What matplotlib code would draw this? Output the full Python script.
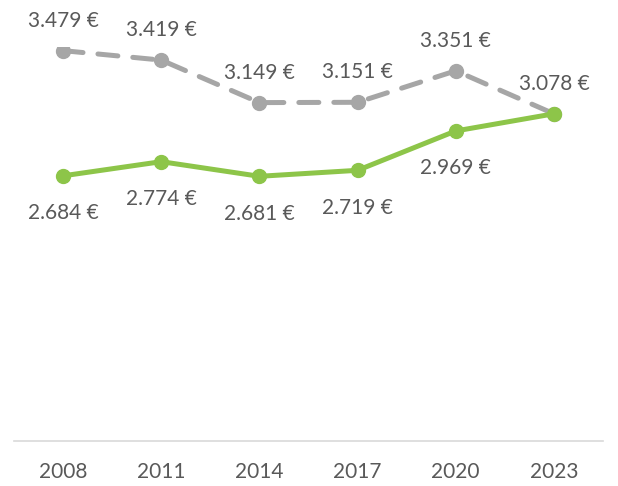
import matplotlib.pyplot as plt

years = ['2008', '2011', '2014', '2017', '2020', '2023']
grey_vals = [3479, 3419, 3149, 3151, 3351, 3078]
green_vals = [2684, 2774, 2681, 2719, 2969, 3078]

plt.rcParams['font.family'] = ['Lato', 'DejaVu Sans']
txt = '#595959'

fig = plt.figure(figsize=(6.18, 4.86), dpi=100)
ax = fig.add_axes([0.0227, 0.0926, 0.953, 0.81])
x = range(len(years))

ax.plot(x, grey_vals, color='#A6A6A6', lw=3.6, ls=(0, (4, 3)),
        marker='o', ms=10, dash_capstyle='round', zorder=2)
ax.plot(x, green_vals, color='#8DC549', lw=3.6, marker='o', ms=10, zorder=3)

def fmt(v):
    return f'{v/1000:.3f} €'

for i, v in enumerate(grey_vals):
    ax.annotate(fmt(v), (i, v), xytext=(0, 21.5), textcoords='offset points',
                ha='center', va='center', fontsize=15, color=txt)
for i, v in enumerate(green_vals[:-1]):
    ax.annotate(fmt(v), (i, v), xytext=(0, -27), textcoords='offset points',
                ha='center', va='center', fontsize=15, color=txt)

ax.set_xlim(-0.5, len(years) - 0.5)
ax.set_ylim(1000, 3500)
ax.set_xticks(list(x))
ax.set_xticklabels(years, fontsize=15, color=txt)
ax.tick_params(axis='x', length=0, pad=15)
ax.set_yticks([])
for s in ['top', 'right', 'left']:
    ax.spines[s].set_visible(False)
ax.spines['bottom'].set_color('#D9D9D9')
ax.spines['bottom'].set_linewidth(1.2)

fig.savefig('out.png', dpi=100)
